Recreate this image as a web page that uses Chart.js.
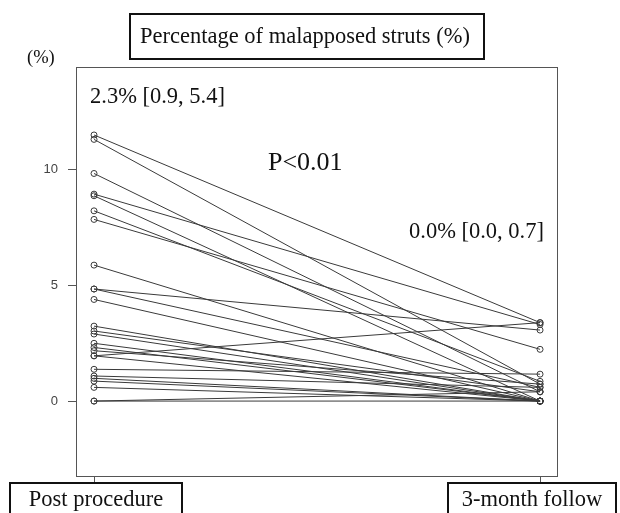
<!DOCTYPE html>
<html>
<head>
<meta charset="utf-8">
<script src="https://cdn.jsdelivr.net/npm/chart.js@4.4.3/dist/chart.umd.min.js"></script>
<style>
  html, body { margin: 0; padding: 0; background: #fff; }
  #wrap { width: 620px; height: 513px; }
</style>
</head>
<body>
<div id="wrap"><canvas id="c" width="620" height="513"></canvas></div>
<script>
// categories on the x axis
const categories = ['Post procedure', '3-month follow'];
// malapposed struts (%) per patient, paired by index
const postProcedure = [11.47, 11.28, 9.81, 8.92, 8.85, 8.2, 7.83, 5.86, 4.83, 4.83, 4.38, 3.23, 3.02,
    2.89, 2.49, 2.31, 2.17, 1.95, 1.95, 1.37, 1.08, 0.98, 0.86, 0.59, 0, 0];
const followUp = [3.38, 0.73, 0.4, 3.3, 0, 0.85, 2.23, 0, 3.06, 0.59, 0, 0, 0.4,
    0, 0, 0, 0.73, 3.38, 0, 1.16, 0.59, 0, 0, 0, 0, 0.4];
const yTicks = [0, 5, 10];
const annotations = [
    {text: '2.3% [0.9, 5.4]', x: 90, y: 97, size: 22.5},
    {text: 'P<0.01', x: 268, y: 163, size: 26},
    {text: '0.0% [0.0, 0.7]', x: 409, y: 232, size: 22.5}
];

const ink = '#3a3a3a';
const serif = '"Liberation Serif", "Times New Roman", serif';

const datasets = postProcedure.map((v, i) => ({
    data: [{x: 0, y: v}, {x: 1, y: followUp[i]}],
    borderColor: ink,
    borderWidth: 1,
    pointRadius: 3,
    pointBorderWidth: 1,
    pointBackgroundColor: 'rgba(0,0,0,0)',
    pointBorderColor: ink,
    tension: 0
}));

// boxes, titles and annotation text drawn over the chart
const decorations = {
    id: 'decorations',
    afterDraw(chart) {
        const ctx = chart.ctx;
        const area = chart.chartArea;
        ctx.save();
        ctx.strokeStyle = '#555';
        ctx.lineWidth = 1;
        ctx.strokeRect(Math.round(area.left) + 0.5, Math.round(area.top) + 0.5,
            Math.round(area.right - area.left), Math.round(area.bottom - area.top));

        ctx.fillStyle = '#111';
        ctx.textBaseline = 'middle';
        ctx.textAlign = 'left';

        // title box
        ctx.font = '22.5px ' + serif;
        ctx.lineWidth = 2;
        ctx.strokeStyle = '#111';
        ctx.strokeRect(130, 14, 354, 45);
        ctx.fillText('Percentage of malapposed struts (%)', 140, 37);

        ctx.font = '18.5px ' + serif;
        ctx.fillText('(%)', 27, 58);

        annotations.forEach(a => {
            ctx.font = a.size + 'px ' + serif;
            ctx.fillText(a.text, a.x, a.y);
        });

        // category label boxes
        ctx.font = '22.5px ' + serif;
        ctx.textAlign = 'center';
        const boxes = [{x: 10, w: 172}, {x: 448, w: 168}];
        categories.forEach((c, i) => {
            const b = boxes[i];
            ctx.strokeRect(b.x, 483, b.w, 40);
            ctx.fillText(c, b.x + b.w / 2, 500);
        });
        ctx.restore();
    }
};

new Chart(document.getElementById('c'), {
    type: 'line',
    data: {datasets},
    options: {
        responsive: false,
        animation: false,
        layout: {padding: {top: 67, right: 63, left: 0, bottom: 0}},
        plugins: {legend: {display: false}, tooltip: {enabled: false}},
        scales: {
            x: {
                type: 'linear',
                min: -0.0404,
                max: 1.038,
                afterBuildTicks: s => { s.ticks = [{value: 0}, {value: 1}]; },
                afterFit: s => { s.height = 37; },
                grid: {drawOnChartArea: false, drawTicks: true, tickLength: 8, color: '#555'},
                border: {display: false},
                ticks: {callback: () => ''}
            },
            y: {
                min: -3.23,
                max: 14.4,
                afterBuildTicks: s => { s.ticks = yTicks.map(v => ({value: v})); },
                afterFit: s => { s.width = 76; },
                grid: {drawOnChartArea: false, drawTicks: true, tickLength: 8, color: '#555'},
                border: {display: false},
                ticks: {
                    color: '#444',
                    padding: 10,
                    font: {family: '"Liberation Sans", Arial, sans-serif', size: 13}
                }
            }
        }
    },
    plugins: [decorations]
});
</script>
</body>
</html>
